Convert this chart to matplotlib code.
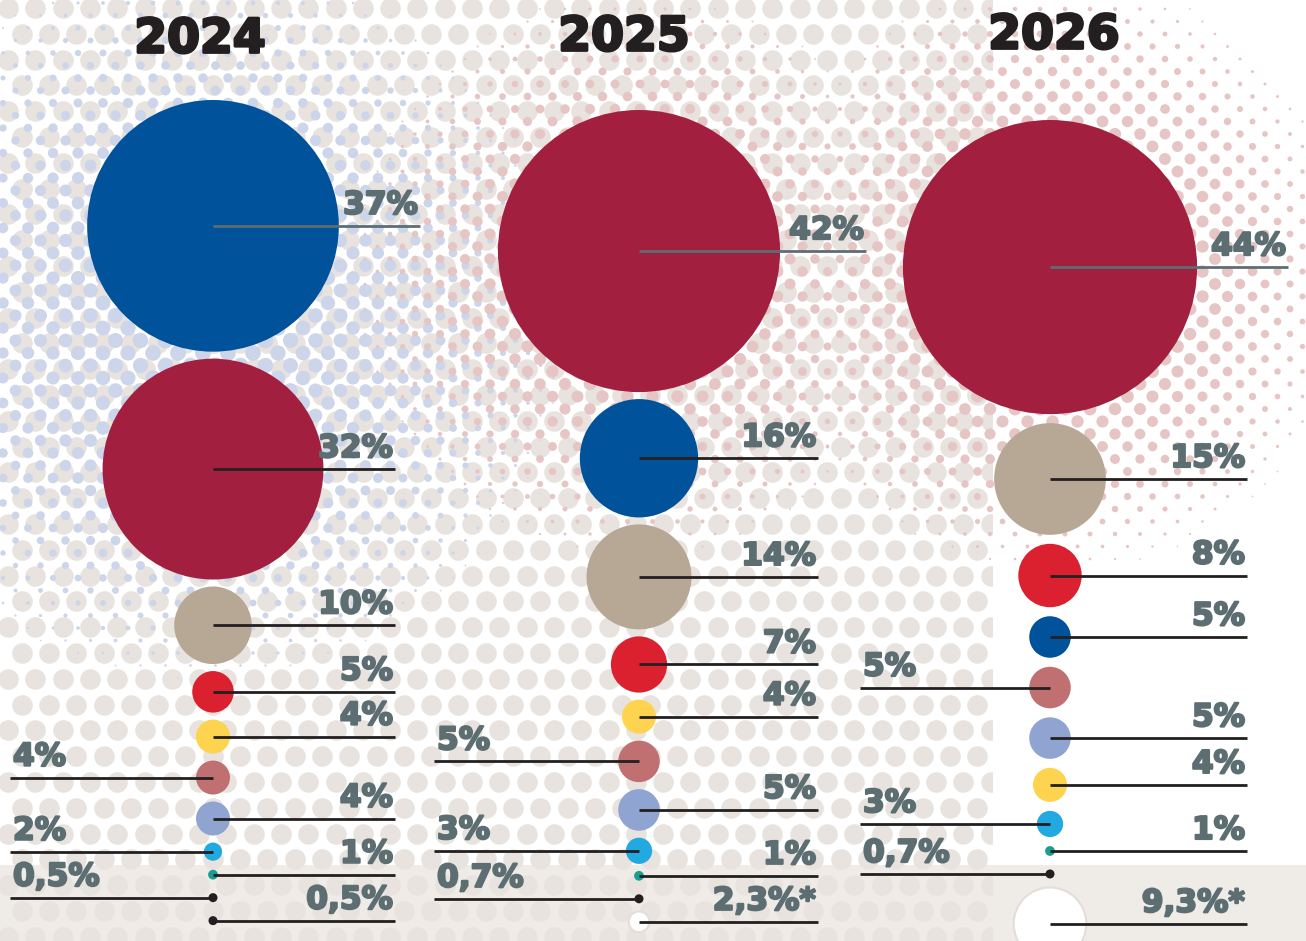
import numpy as np
import matplotlib.pyplot as plt
import matplotlib.patheffects as pe
from matplotlib.patches import Circle, Rectangle

# share per group and year, top to bottom inside each column
years = ['2024', '2025', '2026']

groups_2024 = ['blue', 'wine', 'taupe', 'red', 'yellow', 'rose', 'lavender', 'cyan', 'teal', 'black', 'black']
values_2024 = [37, 32, 10, 5, 4, 4, 4, 2, 1, 0.5, 0.5]
sides_2024 = ['R', 'R', 'R', 'R', 'R', 'L', 'R', 'L', 'R', 'L', 'R']

groups_2025 = ['wine', 'blue', 'taupe', 'red', 'yellow', 'rose', 'lavender', 'cyan', 'teal', 'black', 'white']
values_2025 = [42, 16, 14, 7, 4, 5, 5, 3, 1, 0.7, 2.3]
sides_2025 = ['R', 'R', 'R', 'R', 'R', 'L', 'R', 'L', 'R', 'L', 'R']

groups_2026 = ['wine', 'taupe', 'red', 'blue', 'rose', 'lavender', 'yellow', 'cyan', 'teal', 'black', 'white']
values_2026 = [44, 15, 8, 5, 5, 5, 4, 3, 1, 0.7, 9.3]
sides_2026 = ['R', 'R', 'R', 'R', 'L', 'R', 'R', 'L', 'R', 'L', 'R']

footnoted = ['white']   # these labels get an asterisk

colors = {
    'wine': '#a21f40', 'blue': '#00529b', 'taupe': '#b7a795', 'red': '#db2130',
    'yellow': '#fdd34f', 'rose': '#c07070', 'lavender': '#8fa4d1', 'cyan': '#22a9e1',
    'teal': '#199e92', 'black': '#231f20', 'white': '#ffffff',
}

# column layout (pixels)
col_x = [213, 639, 1050]
col_top = [100, 110, 120]
col_gap = [7, 7, 9]
right_end = [395, 818, 1247]
first_end = [420, 866, 1288]
left_start = [10, 434, 860]
title_x = [200, 624, 1054]
title_y = [40, 38, 36]

W, H = 1306, 941
label_color = '#5c6e72'
ink = '#231f20'
PT = 0.72  # points per pixel at 100 dpi


def radius(v):
    return max(4.88 * v ** 0.9, 4.5)


def stack(values, top, gap, min_step=23):
    r = [radius(v) for v in values]
    ys = [top + r[0]]
    for i in range(1, len(r)):
        ys.append(ys[-1] + max(r[i - 1] + gap + r[i], min_step))
    return r, ys


def fmt(v, g):
    s = ('%g' % v).replace('.', ',') + '%'
    return s + '*' if g in footnoted else s


def dot_grid(dx, dy, x0, y0):
    xs, ys = [], []
    for i, yy in enumerate(np.arange(y0, H + dy, dy)):
        xx = np.arange(x0 + (dx / 2 if i % 2 else 0), W + dx, dx)
        xs.append(xx)
        ys.append(np.full_like(xx, yy))
    return np.concatenate(xs), np.concatenate(ys)


fig = plt.figure(figsize=(W / 100, H / 100), dpi=100)
ax = fig.add_axes([0, 0, 1, 1])
ax.set_xlim(0, W)
ax.set_ylim(H, 0)
ax.set_aspect('equal')
ax.axis('off')

# bottom band
ax.add_patch(Rectangle((0, 865), W, H - 865, color='#efebe7', zorder=0.5, lw=0))

# beige halftone, left part only
gx, gy = dot_grid(27.3, 25.8, 8, 8)
sc = ax.scatter(gx, gy, s=(2 * 10.3 * PT) ** 2, color='#e8e3de', linewidths=0, zorder=1)
sc.set_clip_path(Rectangle((0, 0), 992, H, transform=ax.transData))

# blue halftone around the 2024 leader
bx, by = dot_grid(25, 12.5, 3, 3)
d = np.hypot(bx - 205, by - 320)
br = 8 * (1 - (d / 380) ** 2)
keep = br > 0.8
ax.scatter(bx[keep], by[keep], s=(2 * br[keep] * PT) ** 2, color='#cdd5ea', linewidths=0, zorder=2)

# pink halftone around the 2025 and 2026 leaders
px, py = dot_grid(25, 12.5, 15, 9)
d1 = np.hypot(px - 636, py - 275)
d2 = np.hypot(px - 1055, py - 274)
pr = np.maximum(7.5 * (1 - (d1 / 300) ** 2), 8 * (1 - (d2 / 315) ** 2))
keep = pr > 0.8
ax.scatter(px[keep], py[keep], s=(2 * pr[keep] * PT) ** 2, color='#e6c6c5', linewidths=0, zorder=3)

columns = [(groups_2024, values_2024, sides_2024),
           (groups_2025, values_2025, sides_2025),
           (groups_2026, values_2026, sides_2026)]

heavy = [pe.withStroke(linewidth=1.6, foreground=label_color)]
label_kw = dict(fontsize=22.5, fontweight='bold', color=label_color, zorder=6, path_effects=heavy)

for k, (groups, values, sides) in enumerate(columns):
    cx = col_x[k]
    rs, ys = stack(values, col_top[k], col_gap[k])
    for i, (g, v, side) in enumerate(zip(groups, values, sides)):
        y = ys[i]
        edge = '#e4ded8' if g == 'white' else 'none'
        ax.add_patch(Circle((cx, y), rs[i], facecolor=colors[g], edgecolor=edge,
                            lw=1.5, zorder=4))
        if side == 'R':
            x1 = first_end[k] if i == 0 else right_end[k]
            lc = label_color if i == 0 else ink
            ax.plot([cx, x1], [y, y], color=lc, lw=2, solid_capstyle='butt', zorder=5)
            ax.text(x1 - 2, y - 12, fmt(v, g), ha='right', va='baseline', **label_kw)
        else:
            x0 = left_start[k]
            ax.plot([x0, cx], [y, y], color=ink, lw=2, solid_capstyle='butt', zorder=5)
            ax.text(x0 + 3, y - 12, fmt(v, g), ha='left', va='baseline', **label_kw)

    ax.text(title_x[k], title_y[k], years[k], ha='center', va='center',
            fontsize=34, fontweight='bold', color=ink, zorder=6,
            path_effects=[pe.withStroke(linewidth=2, foreground=ink)])

fig.savefig('out.png', dpi=100)
